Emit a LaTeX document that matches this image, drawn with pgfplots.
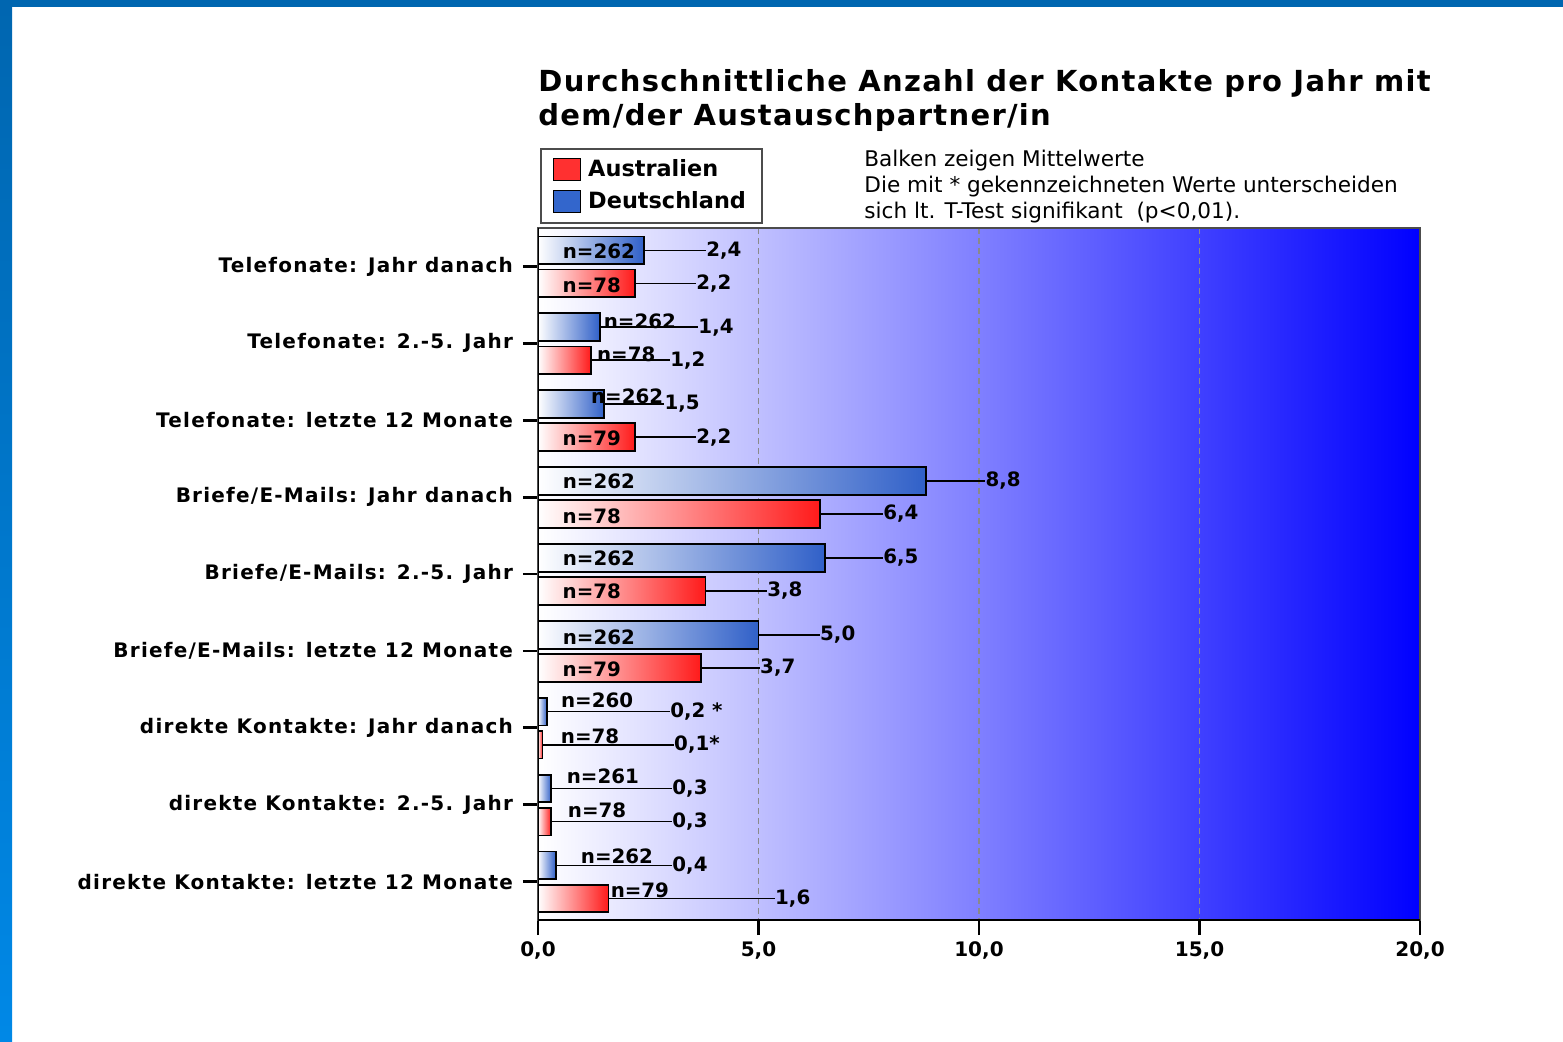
\documentclass[border=0pt]{standalone}
\usepackage{fontspec}
\setmainfont{DejaVu Sans}
\newfontfamily\dvs{DejaVu Sans}
\newfontfamily\dvsLS[LetterSpace=6.2]{DejaVu Sans}
\newfontfamily\dvsT[LetterSpace=4.5]{DejaVu Sans}
\usepackage{pgfplots}
\pgfplotsset{compat=1.18}
\definecolor{dblue}{HTML}{3060C8}
\definecolor{ared}{HTML}{FF1A1A}
\definecolor{legred}{HTML}{FF3030}
\definecolor{legblue}{HTML}{3366CC}
\definecolor{frameA}{HTML}{0066B0}
\definecolor{frameB}{HTML}{0088E6}
\definecolor{gridgray}{HTML}{8A8A8A}
\newcommand\DB[2]{\addplot[xbar, bar shift=0pt, bar width=0.36, draw=black, line width=0.9pt, left color=white, right color=dblue, forget plot] coordinates {(#1,#2)};}
\newcommand\AB[2]{\addplot[xbar, bar shift=0pt, bar width=0.36, draw=black, line width=0.9pt, left color=white, right color=ared, forget plot] coordinates {(#1,#2)};}
\begin{document}
\begin{tikzpicture}
\path[use as bounding box] (0,0) rectangle (781.5pt,520.5pt);
\fill[white] (0,0) rectangle (781.5pt,520.5pt);
\shade[top color=frameA, bottom color=frameB] (0,0) rectangle (6pt,520.5pt);
\fill[frameA] (0,517pt) rectangle (781.5pt,520.5pt);
\begin{axis}[
  at={(269pt,60.5pt)}, anchor=south west, scale only axis,
  width=441pt, height=346pt,
  xmin=0, xmax=20, ymin=-0.5, ymax=8.5, y dir=reverse,
  axis background/.style={left color=white, right color=blue},
  axis line style={draw=gray!60!black, line width=0.8pt},
  xtick={0,5,10,15,20}, xtick pos=bottom, ytick pos=left,
  ytick={0,...,8},
  yticklabels={Telefonate: Jahr danach, Telefonate: 2.-5. Jahr, Telefonate: letzte 12 Monate, Briefe/E-Mails: Jahr danach, Briefe/E-Mails: 2.-5. Jahr, Briefe/E-Mails: letzte 12 Monate, direkte Kontakte: Jahr danach, direkte Kontakte: 2.-5. Jahr, direkte Kontakte: letzte 12 Monate},
  tick align=outside, major tick length=7.5pt,
  tick style={black, line width=1.4pt},
  xmajorgrids, grid style={densely dashed, gridgray, line width=0.7pt},
  /pgf/number format/assume math mode=true,
  xticklabel={\pgfmathprintnumber[fixed,fixed zerofill,precision=1,use comma,assume math mode=true]{\tick}},
  xticklabel style={font=\dvs\bfseries\fontsize{10}{12}\selectfont},
  yticklabel style={font=\dvsLS\bfseries\fontsize{10}{12}\selectfont, xshift=-1.5pt},
  legend style={at={(0.0023,1.1156)}, anchor=north west, draw=gray!60!black, line width=0.8pt, fill=white, font=\dvs\bfseries\fontsize{11.2}{13}\selectfont, inner xsep=6pt, inner ysep=3.5pt, cells={anchor=west}, row sep=2pt},
]
\addlegendimage{legend image code/.code={\draw[draw=black, fill=legred, line width=0.6pt] (0pt,-5.5pt) rectangle (13.5pt,5.5pt); \path (15pt,0pt);}}
\addlegendentry{Australien}
\addlegendimage{legend image code/.code={\draw[draw=black, fill=legblue, line width=0.6pt] (0pt,-5.5pt) rectangle (13.5pt,5.5pt); \path (15pt,0pt);}}
\addlegendentry{Deutschland}
% whisker lines to value labels
\addplot[black, line width=0.8pt, unbounded coords=jump, forget plot] coordinates {
(2.4,-0.21) (3.81,-0.21) (nan,nan)
(1.4,0.79) (3.63,0.79) (nan,nan)
(1.5,1.79) (2.86,1.79) (nan,nan)
(8.8,2.79) (10.14,2.79) (nan,nan)
(6.5,3.79) (7.82,3.79) (nan,nan)
(5.0,4.79) (6.39,4.79) (nan,nan)
(0.2,5.79) (2.99,5.79) (nan,nan)
(0.3,6.79) (3.04,6.79) (nan,nan)
(0.4,7.79) (3.04,7.79) (nan,nan)
(2.2,0.22) (3.58,0.22) (nan,nan)
(1.2,1.22) (2.99,1.22) (nan,nan)
(2.2,2.22) (3.58,2.22) (nan,nan)
(6.4,3.22) (7.82,3.22) (nan,nan)
(3.8,4.22) (5.19,4.22) (nan,nan)
(3.7,5.22) (5.03,5.22) (nan,nan)
(0.1,6.22) (3.08,6.22) (nan,nan)
(0.3,7.22) (3.04,7.22) (nan,nan)
(1.6,8.22) (5.37,8.22)
};
% Deutschland bars
\DB{2.4}{-0.21}
\DB{1.4}{0.79}
\DB{1.5}{1.79}
\DB{8.8}{2.79}
\DB{6.5}{3.79}
\DB{5.0}{4.79}
\DB{0.2}{5.79}
\DB{0.3}{6.79}
\DB{0.4}{7.79}
% Australien bars
\AB{2.2}{0.22}
\AB{1.2}{1.22}
\AB{2.2}{2.22}
\AB{6.4}{3.22}
\AB{3.8}{4.22}
\AB{3.7}{5.22}
\AB{0.1}{6.22}
\AB{0.3}{7.22}
\AB{1.6}{8.22}
% value labels
\addplot[draw=none, forget plot, nodes near coords, point meta=explicit symbolic,
  nodes near coords style={anchor=west, inner sep=0pt, black, font=\dvs\bfseries\fontsize{9.9}{11}\selectfont}]
  table[meta=lab, row sep=\\] {
x y lab\\
3.81 -0.21 2,4\\
3.63 0.79 1,4\\
2.86 1.79 1,5\\
10.14 2.79 8,8\\
7.82 3.79 6,5\\
6.39 4.79 5,0\\
2.99 5.79 {0,2 *}\\
3.04 6.79 0,3\\
3.04 7.79 0,4\\
3.58 0.22 2,2\\
2.99 1.22 1,2\\
3.58 2.22 2,2\\
7.82 3.22 6,4\\
5.19 4.22 3,8\\
5.03 5.22 3,7\\
3.08 6.22 0,1*\\
3.04 7.22 0,3\\
5.37 8.22 1,6\\
};
% n labels
\addplot[draw=none, forget plot, nodes near coords, point meta=explicit symbolic,
  nodes near coords style={anchor=center, inner sep=0pt, black, font=\dvs\bfseries\fontsize{9.9}{11}\selectfont}]
  table[meta=lab, row sep=\\] {
x y lab\\
1.38 -0.20 n=262\\
2.31 0.71 n=262\\
2.02 1.69 n=262\\
1.38 2.80 n=262\\
1.38 3.80 n=262\\
1.38 4.82 n=262\\
1.34 5.64 n=260\\
1.47 6.63 n=261\\
1.79 7.67 n=262\\
1.22 0.24 n=78\\
2.00 1.14 n=78\\
1.22 2.23 n=79\\
1.22 3.25 n=78\\
1.22 4.23 n=78\\
1.22 5.24 n=79\\
1.18 6.11 n=78\\
1.34 7.07 n=78\\
2.31 8.12 n=79\\
};
\draw[black, line width=1.2pt] (axis cs:0,-0.5) -- (axis cs:0,8.5);
\draw[black, line width=1pt] (axis cs:0,8.5) -- (axis cs:20,8.5);
\end{axis}
\node[anchor=west, inner sep=0pt, font=\dvsT\bfseries\fontsize{14.5}{16}\selectfont] at (269pt,478.5pt) {Durchschnittliche Anzahl der Kontakte pro Jahr mit};
\node[anchor=west, inner sep=0pt, font=\dvsT\bfseries\fontsize{14.5}{16}\selectfont] at (269pt,461.5pt) {dem/der Austauschpartner/in};
\node[anchor=west, inner sep=0pt, font=\dvs\fontsize{10.8}{12}\selectfont] at (432pt,440pt) {Balken zeigen Mittelwerte};
\node[anchor=west, inner sep=0pt, font=\dvs\fontsize{10.8}{12}\selectfont] at (432pt,427pt) {Die mit * gekennzeichneten Werte unterscheiden};
\node[anchor=west, inner sep=0pt, font=\dvs\fontsize{10.8}{12}\selectfont] at (432pt,414pt) {sich lt. T-Test signifikant\ \ (p<0,01).};
\end{tikzpicture}
\end{document}
